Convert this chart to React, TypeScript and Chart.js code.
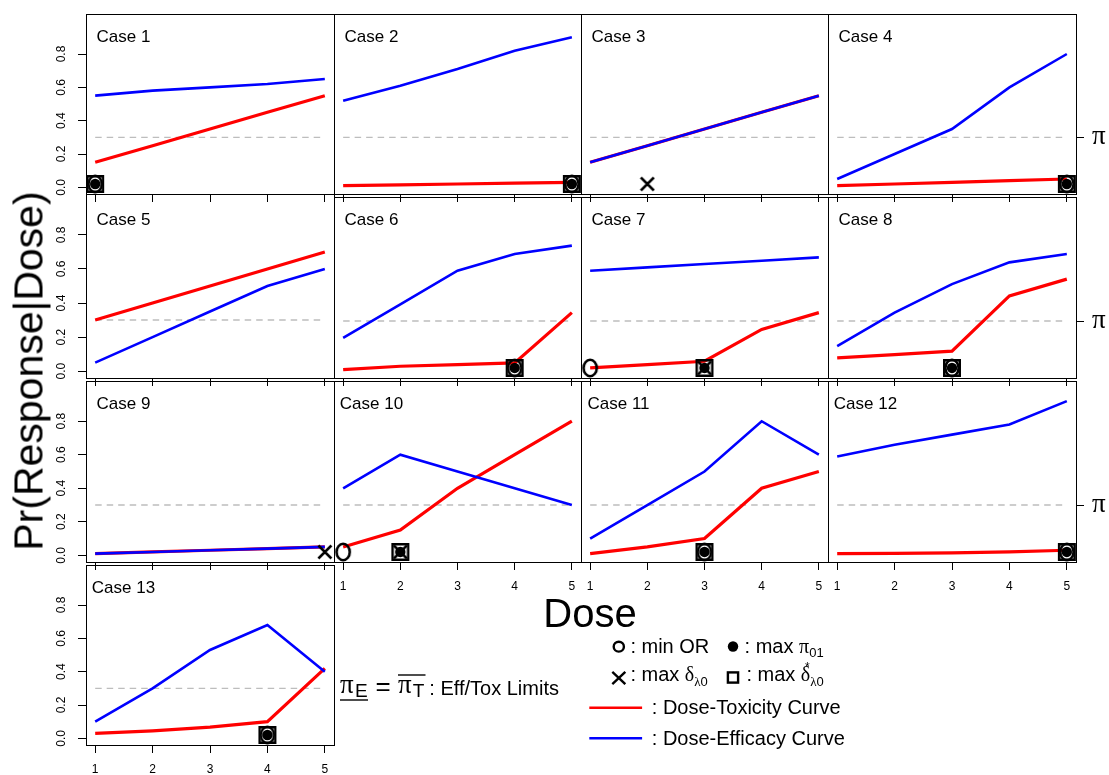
import React, { useEffect, useRef } from 'react';
import { Chart, registerables } from 'chart.js';

Chart.register(...registerables);

// ---------------- data ----------------
const doses = [1, 2, 3, 4, 5];
const doseTickLabels = ['1', '2', '3', '4', '5'];
const probTicks = [0, 0.2, 0.4, 0.6, 0.8];
const probTickLabels = ['0.0', '0.2', '0.4', '0.6', '0.8'];
const caseNames = ['Case 1', 'Case 2', 'Case 3', 'Case 4', 'Case 5', 'Case 6', 'Case 7', 'Case 8', 'Case 9', 'Case 10', 'Case 11', 'Case 12', 'Case 13'];

const toxCase1 = [0.15, 0.25, 0.35, 0.45, 0.55];
const toxCase2 = [0.01, 0.015, 0.02, 0.025, 0.03];
const toxCase3 = [0.15, 0.25, 0.35, 0.45, 0.55];
const toxCase4 = [0.01, 0.02, 0.03, 0.04, 0.05];
const toxCase5 = [0.3, 0.4, 0.5, 0.6, 0.7];
const toxCase6 = [0.01, 0.03, 0.04, 0.05, 0.35];
const toxCase7 = [0.02, 0.04, 0.06, 0.25, 0.35];
const toxCase8 = [0.08, 0.1, 0.12, 0.45, 0.55];
const toxCase9 = [0.01, 0.02, 0.03, 0.04, 0.05];
const toxCase10 = [0.05, 0.15, 0.4, 0.6, 0.8];
const toxCase11 = [0.01, 0.05, 0.1, 0.4, 0.5];
const toxCase12 = [0.01, 0.012, 0.015, 0.02, 0.03];
const toxCase13 = [0.03, 0.045, 0.067, 0.1, 0.42];

const effCase1 = [0.55, 0.58, 0.6, 0.62, 0.65];
const effCase2 = [0.52, 0.61, 0.71, 0.82, 0.9];
const effCase3 = [0.15, 0.25, 0.35, 0.45, 0.55];
const effCase4 = [0.05, 0.2, 0.35, 0.6, 0.8];
const effCase5 = [0.05, 0.2, 0.35, 0.5, 0.6];
const effCase6 = [0.2, 0.4, 0.6, 0.7, 0.75];
const effCase7 = [0.6, 0.62, 0.64, 0.66, 0.68];
const effCase8 = [0.15, 0.35, 0.52, 0.65, 0.7];
const effCase9 = [0.01, 0.02, 0.03, 0.04, 0.05];
const effCase10 = [0.4, 0.6, 0.5, 0.4, 0.3];
const effCase11 = [0.1, 0.3, 0.5, 0.8, 0.6];
const effCase12 = [0.59, 0.66, 0.72, 0.78, 0.92];
const effCase13 = [0.1, 0.3, 0.53, 0.68, 0.4];

const toxCurves = [toxCase1, toxCase2, toxCase3, toxCase4, toxCase5, toxCase6, toxCase7, toxCase8, toxCase9, toxCase10, toxCase11, toxCase12, toxCase13];
const effCurves = [effCase1, effCase2, effCase3, effCase4, effCase5, effCase6, effCase7, effCase8, effCase9, effCase10, effCase11, effCase12, effCase13];

const effToxLimit = 0.3;
const markerLevel = 0.02;
const minORDose = [1, 5, null, 5, null, 4, 1, 3, null, 1, 3, 5, 4];
const maxPi01Dose = [1, 5, null, 5, null, 4, 3, 3, null, 2, 3, 5, 4];
const maxDeltaDose = [null, null, 2, null, null, null, 3, null, 5, 2, null, null, null];
const maxDeltaStarDose = [1, 5, null, 5, null, 4, 3, 3, null, 2, 3, 5, 4];

// ---------------- layout ----------------
const COL_L = [86, 334, 581, 828];
const COL_R = [334, 581, 828, 1076];
const ROW_T = [11, 194, 378, 562];
const ROW_B = [194, 378, 562, 745];
const ML = 50;
const MR = 33;
const MT = 4;
const MB = 34;

const SANS = '"Liberation Sans", Arial, Helvetica, sans-serif';
const SERIF = '"Liberation Serif", "Times New Roman", serif';

function makeMarker(w: number, h: number, draw: (ctx: CanvasRenderingContext2D) => void) {
  const c = document.createElement('canvas');
  c.width = w;
  c.height = h;
  const ctx = c.getContext('2d') as CanvasRenderingContext2D;
  draw(ctx);
  return c;
}

const Txt = ({ x, base, size, serif, children, style }: any) => (
  <div
    style={{
      position: 'absolute',
      left: x,
      top: base - (serif ? 0.8375 : 0.8465) * size,
      fontSize: size,
      lineHeight: `${size}px`,
      fontFamily: serif ? SERIF : SANS,
      whiteSpace: 'nowrap',
      color: '#000',
      ...style,
    }}
  >
    {children}
  </div>
);

const greek = (ch: string, extra: any = {}) => (
  <span style={{ fontFamily: SERIF, lineHeight: 0, ...extra }}>{ch}</span>
);
const sub = (t: any, top = 4) => (
  <span style={{ fontSize: 13, position: 'relative', top, lineHeight: 0 }}>{t}</span>
);

export default function App() {
  const canvasRefs = useRef<(HTMLCanvasElement | null)[]>([]);

  useEffect(() => {
    const squareImg = makeMarker(20, 20, (ctx) => {
      ctx.strokeStyle = '#000';
      ctx.lineWidth = 2.5;
      ctx.strokeRect(2.25, 2.25, 15.5, 15.5);
    });
    const crossImg = makeMarker(16, 16, (ctx) => {
      ctx.strokeStyle = '#000';
      ctx.lineWidth = 2.5;
      ctx.beginPath();
      ctx.moveTo(1.5, 1.5);
      ctx.lineTo(14.5, 14.5);
      ctx.moveTo(14.5, 1.5);
      ctx.lineTo(1.5, 14.5);
      ctx.stroke();
    });
    const ringImg = makeMarker(18, 22, (ctx) => {
      ctx.strokeStyle = '#000';
      ctx.lineWidth = 2.6;
      ctx.beginPath();
      ctx.ellipse(9, 11, 6.6, 8.2, 0, 0, Math.PI * 2);
      ctx.stroke();
    });

    const charts: Chart[] = [];
    canvasRefs.current.forEach((cv, i) => {
      if (!cv) return;
      const row = Math.floor(i / 4);
      const col = i % 4;
      const showXLabels = i + 4 >= caseNames.length;
      const pt = (d: number | null) => (d == null ? [] : [{ x: d, y: markerLevel }]);
      const deco = {
        id: 'panelDeco' + i,
        afterDraw(chart: any) {
          const { ctx, chartArea } = chart;
          ctx.save();
          ctx.strokeStyle = '#000';
          ctx.lineWidth = 1;
          ctx.strokeRect(chartArea.left + 0.5, chartArea.top + 0.5, chartArea.right - chartArea.left, chartArea.bottom - chartArea.top);
          if (col === 0) {
            const ys = chart.scales.y;
            ctx.fillStyle = '#000';
            ctx.font = `12px ${SANS}`;
            ctx.textAlign = 'center';
            ctx.textBaseline = 'middle';
            probTicks.forEach((v, k) => {
              ctx.save();
              ctx.translate(chartArea.left - 24, ys.getPixelForValue(v));
              ctx.rotate(-Math.PI / 2);
              ctx.fillText(probTickLabels[k], 0, 0);
              ctx.restore();
            });
          }
          ctx.restore();
        },
      };
      const tickGrid = {
        display: true,
        drawOnChartArea: false,
        drawTicks: true,
        tickLength: 8,
        tickColor: '#000',
        tickWidth: 1,
        lineWidth: 1,
        color: '#000',
      };
      const chart = new Chart(cv, {
        type: 'line',
        data: {
          datasets: [
            { label: 'max delta star', data: pt(maxDeltaStarDose[i]), showLine: false, pointStyle: squareImg as any, pointRadius: 6, clip: false as any },
            { label: 'max delta', data: pt(maxDeltaDose[i]), showLine: false, pointStyle: crossImg as any, pointRadius: 6, clip: false as any },
            { label: 'min OR', data: pt(minORDose[i]), showLine: false, pointStyle: ringImg as any, pointRadius: 6, clip: false as any },
            { label: 'max pi01', data: pt(maxPi01Dose[i]), showLine: false, pointStyle: 'circle', pointRadius: 5.2, pointBackgroundColor: '#000', pointBorderColor: '#000', pointBorderWidth: 0, clip: false as any },
            { label: 'Dose-Efficacy Curve', data: doses.map((d, k) => ({ x: d, y: effCurves[i][k] })), borderColor: '#0000ff', borderWidth: 2.6, pointRadius: 0, fill: false },
            { label: 'Dose-Toxicity Curve', data: doses.map((d, k) => ({ x: d, y: toxCurves[i][k] })), borderColor: '#ff0000', borderWidth: 3.2, pointRadius: 0, fill: false },
            { label: 'Eff/Tox Limit', data: [{ x: doses[0], y: effToxLimit }, { x: doses[doses.length - 1], y: effToxLimit }], borderColor: '#bdbdbd', borderWidth: 1.4, borderDash: [6.5, 5], pointRadius: 0, fill: false },
          ] as any,
        },
        options: {
          responsive: false,
          maintainAspectRatio: false,
          animation: false,
          devicePixelRatio: 1,
          events: [],
          layout: { padding: { left: col === 0 ? 0 : ML, right: col === 3 ? 0 : MR, top: MT, bottom: 0 } },
          plugins: { legend: { display: false }, tooltip: { enabled: false }, title: { display: false } },
          elements: { line: { tension: 0 } },
          scales: {
            x: {
              type: 'linear',
              min: 0.84,
              max: 5.16,
              position: 'bottom',
              border: { display: false },
              grid: tickGrid,
              ticks: {
                display: showXLabels,
                color: '#000',
                padding: 9,
                maxRotation: 0,
                autoSkip: false,
                font: { family: SANS, size: 12 },
                callback: (v: any) => doseTickLabels[doses.indexOf(Number(v))] ?? '',
              },
              afterBuildTicks: (s: any) => {
                s.ticks = doses.map((v) => ({ value: v }));
              },
              afterFit: (s: any) => {
                s.height = MB;
                s.paddingLeft = 0;
                s.paddingRight = 0;
              },
            },
            y: {
              type: 'linear',
              display: col === 0,
              min: -0.04,
              max: 1.04,
              position: 'left',
              border: { display: false },
              grid: tickGrid,
              ticks: { display: false },
              afterBuildTicks: (s: any) => {
                s.ticks = probTicks.map((v) => ({ value: v }));
              },
              afterFit: (s: any) => {
                s.width = col === 0 ? ML : 0;
                s.paddingTop = 0;
                s.paddingBottom = 0;
              },
            },
            y2: {
              type: 'linear',
              display: col === 3,
              min: -0.04,
              max: 1.04,
              position: 'right',
              border: { display: false },
              grid: tickGrid,
              ticks: {
                display: true,
                color: '#000',
                padding: 8,
                labelOffset: 0,
                autoSkip: false,
                font: { family: SERIF, size: 27 },
                callback: () => 'π',
              },
              afterBuildTicks: (s: any) => {
                s.ticks = [{ value: effToxLimit }];
              },
              afterFit: (s: any) => {
                s.width = col === 3 ? MR : 0;
                s.paddingTop = 0;
                s.paddingBottom = 0;
              },
            },
          } as any,
        },
        plugins: [deco],
      });
      charts.push(chart);
    });
    return () => charts.forEach((c) => c.destroy());
  }, []);

  return (
    <div style={{ position: 'absolute', left: 0, top: 0, width: 1109, height: 775, overflow: 'hidden', background: '#fff', fontFamily: SANS }}>
      {caseNames.map((name, i) => {
        const row = Math.floor(i / 4);
        const col = i % 4;
        const w = ML + (COL_R[col] - COL_L[col]) + MR;
        const h = MT + (ROW_B[row] - ROW_T[row]) + MB;
        return (
          <canvas
            key={'c' + i}
            ref={(el) => {
              canvasRefs.current[i] = el;
            }}
            width={w}
            height={h}
            style={{ position: 'absolute', left: COL_L[col] - ML, top: ROW_T[row] - MT, width: w, height: h, display: 'block' }}
          />
        );
      })}
      {caseNames.map((name, i) => {
        const row = Math.floor(i / 4);
        const col = i % 4;
        return (
          <div
            key={'l' + i}
            style={{ position: 'absolute', left: COL_L[col] + 37.5, top: ROW_T[row] + 24.5, transform: 'translate(-50%,-50%)', fontSize: 17, lineHeight: '17px', whiteSpace: 'nowrap', color: '#000' }}
          >
            {name}
          </div>
        );
      })}
      <div style={{ position: 'absolute', left: 28.8, top: 370.5, transform: 'translate(-50%,-50%) rotate(-90deg)', fontSize: 41, lineHeight: '41px', whiteSpace: 'nowrap', color: '#000' }}>
        Pr(Response|Dose)
      </div>
      <div style={{ position: 'absolute', left: 590, top: 613.3, transform: 'translate(-50%,-50%)', fontSize: 40, lineHeight: '40px', whiteSpace: 'nowrap', color: '#000' }}>
        Dose
      </div>

      {/* legend symbols */}
      <svg width={1109} height={775} style={{ position: 'absolute', left: 0, top: 0, pointerEvents: 'none' }}>
        <ellipse cx={618.8} cy={646.7} rx={5.1} ry={4.9} fill="none" stroke="#000" strokeWidth={2.4} />
        <circle cx={733} cy={646.5} r={5.2} fill="#000" />
        <line x1={612.3} y1={671.8} x2={625.3} y2={684.2} stroke="#000" strokeWidth={2.4} />
        <line x1={625.3} y1={671.8} x2={612.3} y2={684.2} stroke="#000" strokeWidth={2.4} />
        <rect x={727.9} y={672.4} width={10.2} height={10.2} fill="none" stroke="#000" strokeWidth={2.4} />
        <line x1={589.3} y1={707.7} x2={642.1} y2={707.7} stroke="#ff0000" strokeWidth={2.5} />
        <line x1={589.3} y1={738.3} x2={642.1} y2={738.3} stroke="#0000ff" strokeWidth={2.5} />
        <line x1={340} y1={700} x2={368} y2={700} stroke="#000" strokeWidth={1.4} />
        <line x1={398} y1={675} x2={425.5} y2={675} stroke="#000" strokeWidth={1.4} />
      </svg>

      <Txt x={630.4} base={653} size={20}>: min OR</Txt>
      <Txt x={744.6} base={653} size={20}>
        : max {greek('π')}
        {sub('01')}
      </Txt>
      <Txt x={630.4} base={681} size={20}>
        : max {greek('δ')}
        {sub(<>{greek('λ')}0</>, 5)}
      </Txt>
      <Txt x={746.4} base={681} size={20}>
        : max {greek('δ')}
        {sub(<>{greek('λ')}0</>, 5)}
      </Txt>
      <Txt x={805} base={671} size={12}>*</Txt>
      <Txt x={651.8} base={714} size={20}>: Dose-Toxicity Curve</Txt>
      <Txt x={651.8} base={745} size={20}>: Dose-Efficacy Curve</Txt>

      <Txt x={340} base={694} size={27} serif>π</Txt>
      <Txt x={355} base={697.5} size={19}>E</Txt>
      <Txt x={375.5} base={695} size={26}>=</Txt>
      <Txt x={398} base={694} size={27} serif>π</Txt>
      <Txt x={412.8} base={697.5} size={19}>T</Txt>
      <Txt x={429.3} base={695} size={20}>: Eff/Tox Limits</Txt>
    </div>
  );
}
